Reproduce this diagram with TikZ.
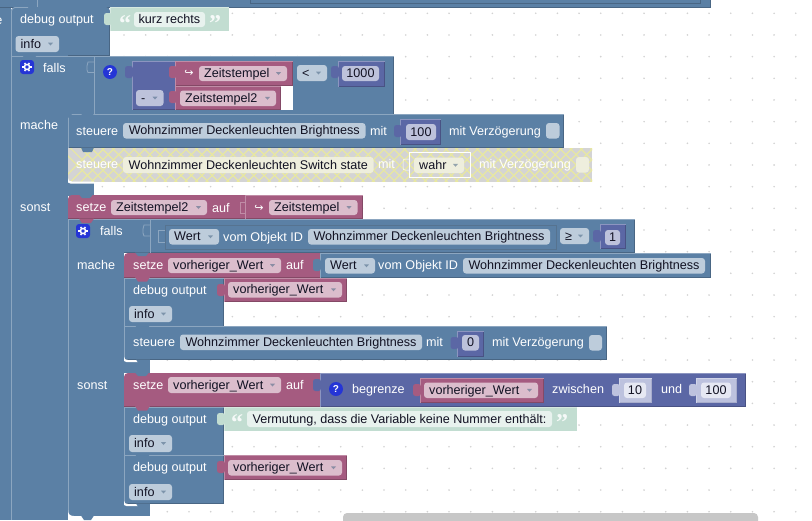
\documentclass[tikz,border=0pt]{standalone}
\usepackage{fontspec}
\setmainfont{Liberation Sans}
\newfontfamily\djv{DejaVu Sans}
\newfontfamily\qf{Liberation Serif}
\definecolor{bl}{HTML}{5B80A5}\definecolor{bllt}{HTML}{8CA6C0}\definecolor{bldk}{HTML}{496684}
\definecolor{pk}{HTML}{A55B80}\definecolor{pklt}{HTML}{C08CA6}\definecolor{pkdk}{HTML}{844966}
\definecolor{pu}{HTML}{5B67A5}\definecolor{pult}{HTML}{8C95C0}\definecolor{pudk}{HTML}{495284}
\definecolor{gr}{HTML}{C2DDD1}\definecolor{grlt}{HTML}{D6E8E0}\definecolor{grdk}{HTML}{C2DDD1}
\definecolor{lp}{HTML}{BDC2DE}\definecolor{lplt}{HTML}{D0D4E8}\definecolor{lpdk}{HTML}{A8ADCC}
\definecolor{fbl}{HTML}{BDCCDB}\definecolor{fpk}{HTML}{DBBDCC}\definecolor{fpu}{HTML}{BDC2DB}
\definecolor{fgr}{HTML}{E8F2EE}\definecolor{flp}{HTML}{E6E8F3}\definecolor{fye}{HTML}{EEEEDD}
\definecolor{icon}{HTML}{2535D6}\definecolor{ink}{HTML}{111122}\definecolor{hatch}{HTML}{E8E8A0}
\newcount\nc
\tikzset{
  every node/.style={font=\fontsize{12.6}{14}\selectfont,inner sep=0pt},
  lbl/.style={anchor=west,text height=9.5pt,text depth=1.5pt},
  whitetxt/.style={lbl,text=white},
  inktxt/.style={lbl,text=ink},
  midtxt/.style={text height=9.5pt,text depth=1.5pt,text=ink},
}
% block with light top/left and dark bottom/right edges
\newcommand\blk[5]{%
  \fill[#5] (#1,#2) rectangle (#3,#4);
  \draw[#5dk,line width=.8pt] (#3-.4,#2) -- (#3-.4,#4-.4) -- (#1,#4-.4);
  \draw[#5lt,line width=.8pt] (#1+.4,#4) -- (#1+.4,#2+.4) -- (#3,#2+.4);}
\newcommand\lab[3]{\global\advance\nc by 1 \node[whitetxt] (t\the\nc) at (#1,#2) {#3};}
\newcommand\fld[6]{\fill[#5,rounded corners=3pt] (#1,#3) rectangle (#2,#4);
  \global\advance\nc by 1 \node[inktxt] (t\the\nc) at (#1+5,{(#3+#4)/2}) {#6};}
\newcommand\dd[6]{\fld{#1}{#2}{#3}{#4}{#5}{#6}%
  \fill[#5!45!bldk] (#2-11,{(#3+#4)/2-1.3}) -- (#2-6,{(#3+#4)/2-1.3}) -- (#2-8.5,{(#3+#4)/2+1.5}) -- cycle;}
\newcommand\num[6]{\fill[#5,rounded corners=3pt] (#1,#3) rectangle (#2,#4);
  \global\advance\nc by 1 \node[midtxt] (t\the\nc) at ({(#1+#2)/2},{(#3+#4)/2}) {#6};}
\newcommand\tabb[3]{\fill[#3,rounded corners=2.5pt] (#1,#2-6) rectangle (#1+8,#2+6);}
\newcommand\notch[3]{\fill[#3] (#1+11,#2-.5) -- (#1+14,#2+4) -- (#1+23,#2+4) -- (#1+26,#2-.5) -- cycle;}
\newcommand\sliver[3]{\fill[white] (#1,#2-3.5) .. controls (#1,#2-1) and (#1+1.5,#2) .. (#1+4,#2) -- (#1+#3,#2) -- (#1+#3,#2+2.2) -- (#1+3,#2+2.2) -- (#1,#2+1) -- cycle;}
\newcommand\gear[2]{\fill[icon,rounded corners=3pt] (#1,#2) rectangle (#1+14,#2+14);
  \draw[white,line width=1.5pt] (#1+7,#2+7) circle (2.6pt);
  \foreach \a in {0,60,...,300}{\draw[white,line width=1.5pt] (#1+7,#2+7) ++(\a:3pt) -- ++(\a:1.7pt);}}
\newcommand\qicon[2]{\fill[icon] (#1,#2) circle (7pt);
  \global\advance\nc by 1 \node[text=white,font=\fontsize{10}{12}\selectfont\bfseries] (t\the\nc) at (#1,#2) {?};}
\newcommand\hook[2]{\global\advance\nc by 1 \node[text=white,font=\djv\fontsize{11}{12}\selectfont] (t\the\nc) at (#1,#2) {↪};}
\newcommand\oq[2]{\global\advance\nc by 1 \node[text=white,opacity=.85,font=\qf\bfseries\fontsize{24}{24}\selectfont,anchor=center] (t\the\nc) at (#1,#2+5) {“};}
\newcommand\cq[2]{\global\advance\nc by 1 \node[text=white,opacity=.85,font=\qf\bfseries\fontsize{24}{24}\selectfont,anchor=center] (t\the\nc) at (#1,#2+5) {”};}
\begin{document}
\begin{tikzpicture}[x=1pt,y=-1pt]
\useasboundingbox (0,0) rectangle (812,520);
\clip (0,0) rectangle (812,520);
\fill[white] (0,0) rectangle (812,520);
% workspace dots
\foreach \i in {0,...,36}{\foreach \j in {0,...,23}{\fill[gray!35] (15.65+21.67*\i,13.3+21.67*\j) circle (.9pt);}}
% scrollbar
\fill[black!22,rounded corners=4pt] (343,513) rectangle (758,530);
% outer left column, top bar
\fill[bl] (0,0) rectangle (11,520);
\fill[bl] (0,0) rectangle (710,7.5);
\draw[bldk,line width=.8pt] (710,0) -- (710,7.3) -- (0,7.3);
\draw[bldk,line width=.8pt] (250,0) -- (250,3.5) -- (700,3.5) -- (700,0);
\draw[bllt,line width=.6pt] (37.5,0) -- (37.5,7);
\node[whitetxt] (eclip) at (-4.9,20) {e};
% debug output 1
\fill[bl,rounded corners=4pt] (11,7) rectangle (40,30);
\blk{11}{11}{110}{55.5}{bl}
\fill[bl,rounded corners=4pt] (11,7) -- (110,7) -- (110,20) -- (11,20) -- cycle;
\draw[bllt,line width=.8pt,rounded corners=4pt] (11.4,30) -- (11.4,7.4) -- (28,7.4);
\blk{110}{7}{229}{31}{gr}
\tabb{104}{19}{gr}
\lab{20}{19.5}{debug output}
\oq{125}{19}\cq{215}{19}
\num{134}{205}{12}{27}{fgr}{kurz rechts}
\dd{15.5}{59}{36}{52}{fbl}{info}
% falls 1
\fill[bl] (11,55) rectangle (68,520);
\draw[bllt,line width=.8pt] (11.4,55) -- (11.4,520);
\blk{11}{56}{394}{114.5}{bl}
\notch{11}{55}{bl}
\draw[bllt,line width=.8pt] (94,56.5) -- (94,114);
\draw[bllt,line width=.8pt] (94,62) -- (88,62) -- (87,66) -- (87,70) -- (88,72.5) -- (94,72.5);
\gear{20}{60}
\lab{43}{68.5}{falls}
\qicon{110}{72}
\blk{132}{61}{176}{110}{pu}
\tabb{125}{72}{pu}
\fill[white] (281,86) rectangle (293,110);
\blk{175}{61}{293}{86}{pk}
\tabb{169}{72}{pk}
\blk{175}{86}{281}{110}{pk}
\tabb{169}{97}{pk}
\hook{189}{73}
\dd{199}{287}{66}{81}{fpk}{Zeitstempel}
\dd{136}{163.5}{90}{106}{fpu}{-}
\dd{180}{276}{90.5}{106}{fpk}{Zeitstempel2}
\dd{297}{327}{65}{81}{fbl}{<}
\blk{338}{61}{385}{86.5}{pu}
\tabb{331}{72}{pu}
\num{342}{379}{66}{81}{fpu}{1000}
\fill[bl] (12,113) rectangle (68,118);
\lab{20}{125.5}{mache}
% steuere 1
\fill[bl] (68,119) rectangle (90,148);
\blk{68}{114}{564}{148}{bl}
\fill[bl] (68,114) -- (72,114) -- (68,118) -- cycle;
\fill[bl] (81,113) -- (83,117) -- (92,117) -- (94,113) -- cycle;
\lab{76}{131}{steuere}
\num{123}{365.5}{123}{138.5}{fbl}{Wohnzimmer Deckenleuchten Brightness}
\lab{370}{131}{mit}
\blk{400}{119}{441}{144.5}{pu}
\tabb{394}{131}{pu}
\num{406}{436}{124}{140}{fpu}{100}
\lab{449}{131}{mit Verzögerung}
\fill[fbl,rounded corners=3pt] (546,123) rectangle (559.5,138.5);
% disabled steuere
\fill[bl] (68,182) rectangle (94,196);
\begin{scope}
\clip (68,148) rectangle (592,181.5);
\fill[black!17] (68,148) rectangle (592,182);
\foreach \k in {0,...,60}{
  \draw[hatch,line width=1.2pt] (60+10.4*\k,148) -- (60+10.4*\k+34,182);
  \draw[hatch,line width=1.2pt] (60+10.4*\k+34,148) -- (60+10.4*\k,182);}
\end{scope}
\fill[bl] (81,147.5) -- (83,152) -- (92,152) -- (94,147.5) -- cycle;
\lab{76}{164.5}{steuere}
\num{123}{373.5}{157}{173}{fye}{Wohnzimmer Deckenleuchten Switch state}
\lab{378}{164.5}{mit}
\draw[white,line width=.8pt] (409.5,152.5) rectangle (470,177.5);
\draw[white,line width=.5pt,rounded corners=2pt] (409,159) -- (403,159) -- (403,170) -- (409,170);
\dd{414}{464}{157.5}{173}{fye}{wahr}
\lab{479}{164.5}{mit Verzögerung}
\fill[fye,rounded corners=3pt] (576,157) rectangle (589,172.5);
\sliver{68}{181.5}{26}
\lab{20}{207}{sonst}
% setze Zeitstempel2
\fill[pk,rounded corners=4pt] (68,195) rectangle (100,215);
\fill[pk] (90,195) rectangle (245,219);
\fill[pk] (68,205) rectangle (100,219);
\draw[pkdk,line width=.8pt] (68,218.6) -- (245,218.6);
\fill[bl] (79,194.5) -- (82,198) -- (90,198) -- (93,194.5) -- cycle;
\blk{245}{195}{363}{219}{pk}
\draw[pklt,line width=.6pt] (245,202) -- (240,202) -- (240,213) -- (245,213);
\lab{76}{207.5}{setze}
\dd{111}{207}{200}{215}{fpk}{Zeitstempel2}
\lab{212}{208}{auf}
\hook{259}{208}
\dd{269}{357.5}{200}{215}{fpk}{Zeitstempel}
% falls 2
\fill[bl] (68,219) rectangle (124,516);
\draw[bllt,line width=.8pt] (68.4,219) -- (68.4,516);
\blk{68}{219}{635}{253}{bl}
\notch{68}{219}{pk}
\fill[bl] (69,251.5) rectangle (124,255);
\draw[bllt,line width=.8pt] (150,219.5) -- (150,253);
\draw[bllt,line width=.8pt] (150,225) -- (144,225) -- (143,229) -- (143,233) -- (144,236) -- (150,236);
\gear{76}{224}
\lab{100}{231.5}{falls}
\draw[bldk!80!bllt,line width=.8pt,fill=bl] (165,225) rectangle (556,249);
\draw[bllt,line width=.6pt] (165,230) -- (158,230) -- (158,242) -- (165,242);
\dd{169}{219}{229}{244.5}{fbl}{Wert}
\lab{223}{237}{vom Objekt ID}
\num{308}{550}{229}{244.5}{fbl}{Wohnzimmer Deckenleuchten Brightness}
\dd{560}{589}{228}{244}{fbl}{≥}
\blk{600}{224}{626}{249}{pu}
\tabb{593}{236}{pu}
\num{605}{620}{230}{245}{fpu}{1}
\lab{77}{265}{mache}
% setze vorheriger 1
\fill[pk,rounded corners=4pt] (124,253) rectangle (150,270);
\fill[pk] (124,260) rectangle (321,278);
\fill[pk] (140,253) rectangle (321,262);
\draw[pkdk,line width=.8pt] (124,277.6) -- (321,277.6);
\fill[bl] (135,252.5) -- (138,256) -- (146,256) -- (149,252.5) -- cycle;
\blk{320}{253}{711}{278}{bl}
\tabb{313}{265}{bl}
\lab{133}{265.5}{setze}
\dd{168}{281}{258}{273}{fpk}{vorheriger\_Wert}
\lab{286}{265.5}{auf}
\dd{325}{375}{258}{273.5}{fbl}{Wert}
\lab{378}{265.5}{vom Objekt ID}
\num{463}{705}{258}{273.5}{fbl}{Wohnzimmer Deckenleuchten Brightness}
% debug output 2
\blk{124}{278}{224}{326.5}{bl}
\notch{124}{277.5}{pk}
\blk{224}{278}{347}{302}{pk}
\tabb{217}{290}{pk}
\lab{133}{290}{debug output}
\dd{228}{342}{282}{297.5}{fpk}{vorheriger\_Wert}
\dd{129}{172}{306}{322}{fbl}{info}
% steuere 2
\blk{124}{326}{607}{360}{bl}
\notch{124}{325.5}{bl}
\lab{133}{342.5}{steuere}
\num{180}{422}{334.5}{350}{fbl}{Wohnzimmer Deckenleuchten Brightness}
\lab{426}{342.5}{mit}
\blk{457}{331}{484}{356.5}{pu}
\tabb{450.5}{343}{pu}
\num{462}{479}{335}{350.5}{fpu}{0}
\lab{492}{342.5}{mit Verzögerung}
\fill[fbl,rounded corners=3pt] (589,335) rectangle (602,350.5);
% arm
\fill[bl] (124,360) rectangle (150,373);
\sliver{124}{360}{21}
\fill[bl] (136,359.5) -- (139,364) -- (147,364) -- (150,359.5) -- cycle;
\lab{77}{385}{sonst}
% setze vorheriger 2
\fill[pk,rounded corners=4pt] (124,373) rectangle (150,395);
\fill[pk] (124,385) rectangle (321,407);
\fill[pk] (140,373) rectangle (321,390);
\draw[pkdk,line width=.8pt] (124,406.6) -- (321,406.6);
\fill[bl] (135,372.5) -- (138,376) -- (146,376) -- (149,372.5) -- cycle;
\blk{320}{373}{746}{407}{pu}
\tabb{313}{385}{pu}
\lab{133}{385.5}{setze}
\dd{168}{281}{377}{393}{fpk}{vorheriger\_Wert}
\lab{286}{385.5}{auf}
\qicon{336}{389}
\lab{352}{389.5}{begrenze}
\blk{420}{378}{544}{403}{pk}
\tabb{413}{390}{pk}
\dd{424}{538}{382.5}{398}{fpk}{vorheriger\_Wert}
\lab{552}{389.5}{zwischen}
\blk{619}{378}{652}{403}{lp}
\tabb{612}{390}{lp}
\num{624}{646}{382.5}{398}{flp}{10}
\lab{661}{389.5}{und}
\blk{696}{378}{737}{403}{lp}
\tabb{689}{390}{lp}
\num{701}{731}{382.5}{398}{flp}{100}
% debug output 3
\blk{124}{407}{224}{455.5}{bl}
\notch{124}{406.5}{pk}
\blk{224}{407}{577}{431}{gr}
\tabb{217}{419}{gr}
\lab{133}{419}{debug output}
\oq{237}{418}\cq{562}{418}
\num{247}{552}{411}{427}{fgr}{Vermutung, dass die Variable keine Nummer enthält:}
\dd{129}{172}{435}{452}{fbl}{info}
% debug output 4
\blk{124}{455}{224}{504}{bl}
\notch{124}{454.5}{bl}
\blk{224}{455}{347}{480}{pk}
\tabb{217}{467}{pk}
\lab{133}{467.5}{debug output}
\dd{228}{342}{460}{475.5}{fpk}{vorheriger\_Wert}
\dd{129}{172}{484}{500}{fbl}{info}
% closing arms
\fill[bl] (124,504) rectangle (150,516);
\sliver{124}{504}{21}
\fill[bl] (136,503.5) -- (139,508) -- (147,508) -- (150,503.5) -- cycle;
\fill[white] (68,516) rectangle (150,521);
\fill[white] (68,510) .. controls (68,514) and (70,516) .. (74,516) -- (68,516) -- cycle;
\fill[bl] (81,515.5) -- (84,520) -- (91,520) -- (94,515.5) -- cycle;
\end{tikzpicture}
\end{document}
